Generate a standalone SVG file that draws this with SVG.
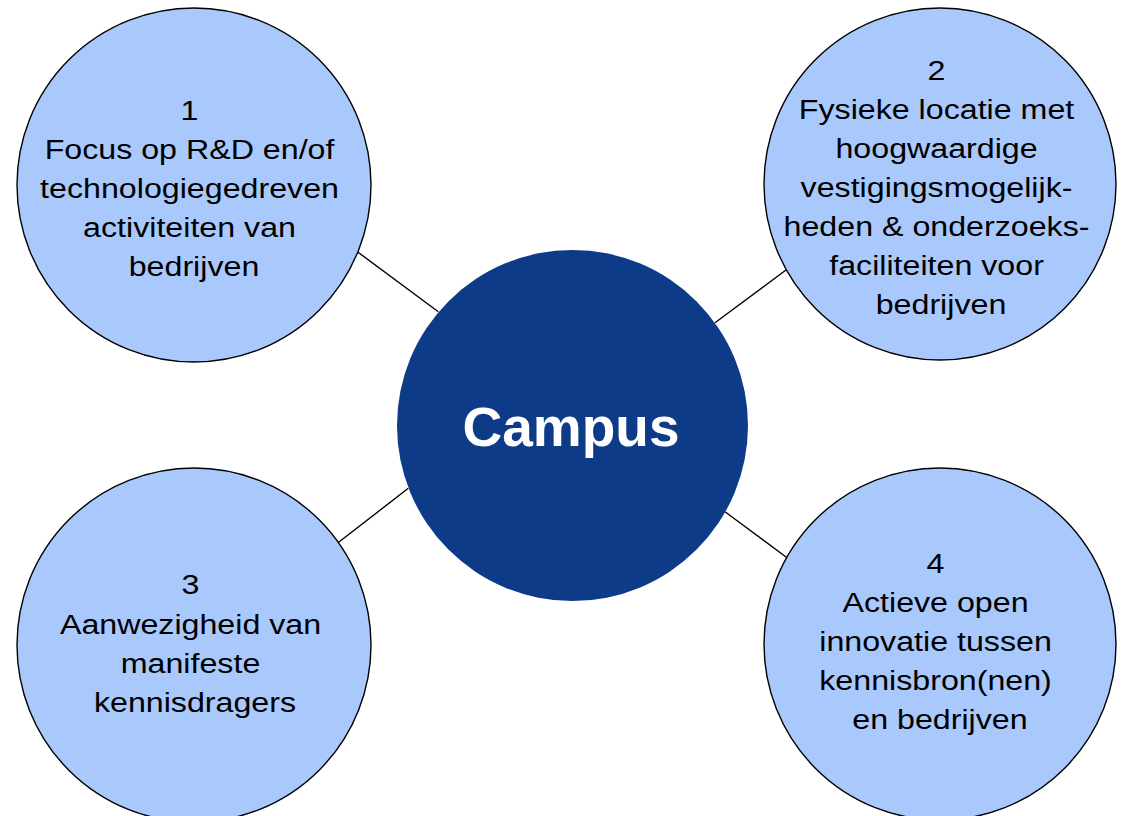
<svg xmlns="http://www.w3.org/2000/svg" width="1121" height="816" viewBox="0 0 1121 816">
<style>
.outer{fill:#A9C9FD;stroke:#000;stroke-width:1.4}
.center{fill:#0E3B88}
.conn{stroke:#000;stroke-width:1.4;fill:none}
.t{font-family:"Liberation Sans",Arial,sans-serif;font-size:28px;fill:#000;text-anchor:middle}
.ct{font-family:"Liberation Sans",Arial,sans-serif;font-size:55px;font-weight:bold;fill:#fff;text-anchor:middle}
</style>
<rect width="1121" height="816" fill="#fff"/>
<g id="connectors">
<line class="conn" x1="357.3" y1="251.7" x2="438.3" y2="311.7"/>
<line class="conn" x1="786" y1="270" x2="715" y2="322.7"/>
<line class="conn" x1="338.3" y1="542.5" x2="408.3" y2="488.3"/>
<line class="conn" x1="725" y1="511.7" x2="786.7" y2="557.5"/>
</g>
<g id="node-campus">
<circle class="center" cx="572.5" cy="425.5" r="175.5"/>
<text class="ct" x="571" y="446">Campus</text>
</g>
<g id="node-1">
<circle class="outer" cx="194" cy="185" r="177"/>
<text class="t" transform="translate(194 0) scale(1.15 1)">
<tspan x="0" y="120">1</tspan>
<tspan x="0" y="159">Focus op R&amp;D en/of</tspan>
<tspan x="0" y="198">technologiegedreven</tspan>
<tspan x="0" y="237">activiteiten van</tspan>
<tspan x="0" y="276">bedrijven</tspan>
</text>
</g>
<g id="node-2">
<circle class="outer" cx="940" cy="184" r="176"/>
<text class="t" transform="translate(941 0) scale(1.15 1)">
<tspan x="0" y="80">2</tspan>
<tspan x="0" y="119">Fysieke locatie met</tspan>
<tspan x="0" y="158">hoogwaardige</tspan>
<tspan x="0" y="197">vestigingsmogelijk-</tspan>
<tspan x="0" y="236">heden &amp; onderzoeks-</tspan>
<tspan x="0" y="275">faciliteiten voor</tspan>
<tspan x="0" y="314">bedrijven</tspan>
</text>
</g>
<g id="node-3">
<circle class="outer" cx="194" cy="645" r="177"/>
<text class="t" transform="translate(195 0) scale(1.15 1)">
<tspan x="0" y="594">3</tspan>
<tspan x="0" y="634">Aanwezigheid van</tspan>
<tspan x="0" y="673">manifeste</tspan>
<tspan x="0" y="712">kennisdragers</tspan>
</text>
</g>
<g id="node-4">
<circle class="outer" cx="940" cy="644" r="176"/>
<text class="t" transform="translate(940 0) scale(1.15 1)">
<tspan x="0" y="573">4</tspan>
<tspan x="0" y="612">Actieve open</tspan>
<tspan x="0" y="651">innovatie tussen</tspan>
<tspan x="0" y="690">kennisbron(nen)</tspan>
<tspan x="0" y="729">en bedrijven</tspan>
</text>
</g>
</svg>
